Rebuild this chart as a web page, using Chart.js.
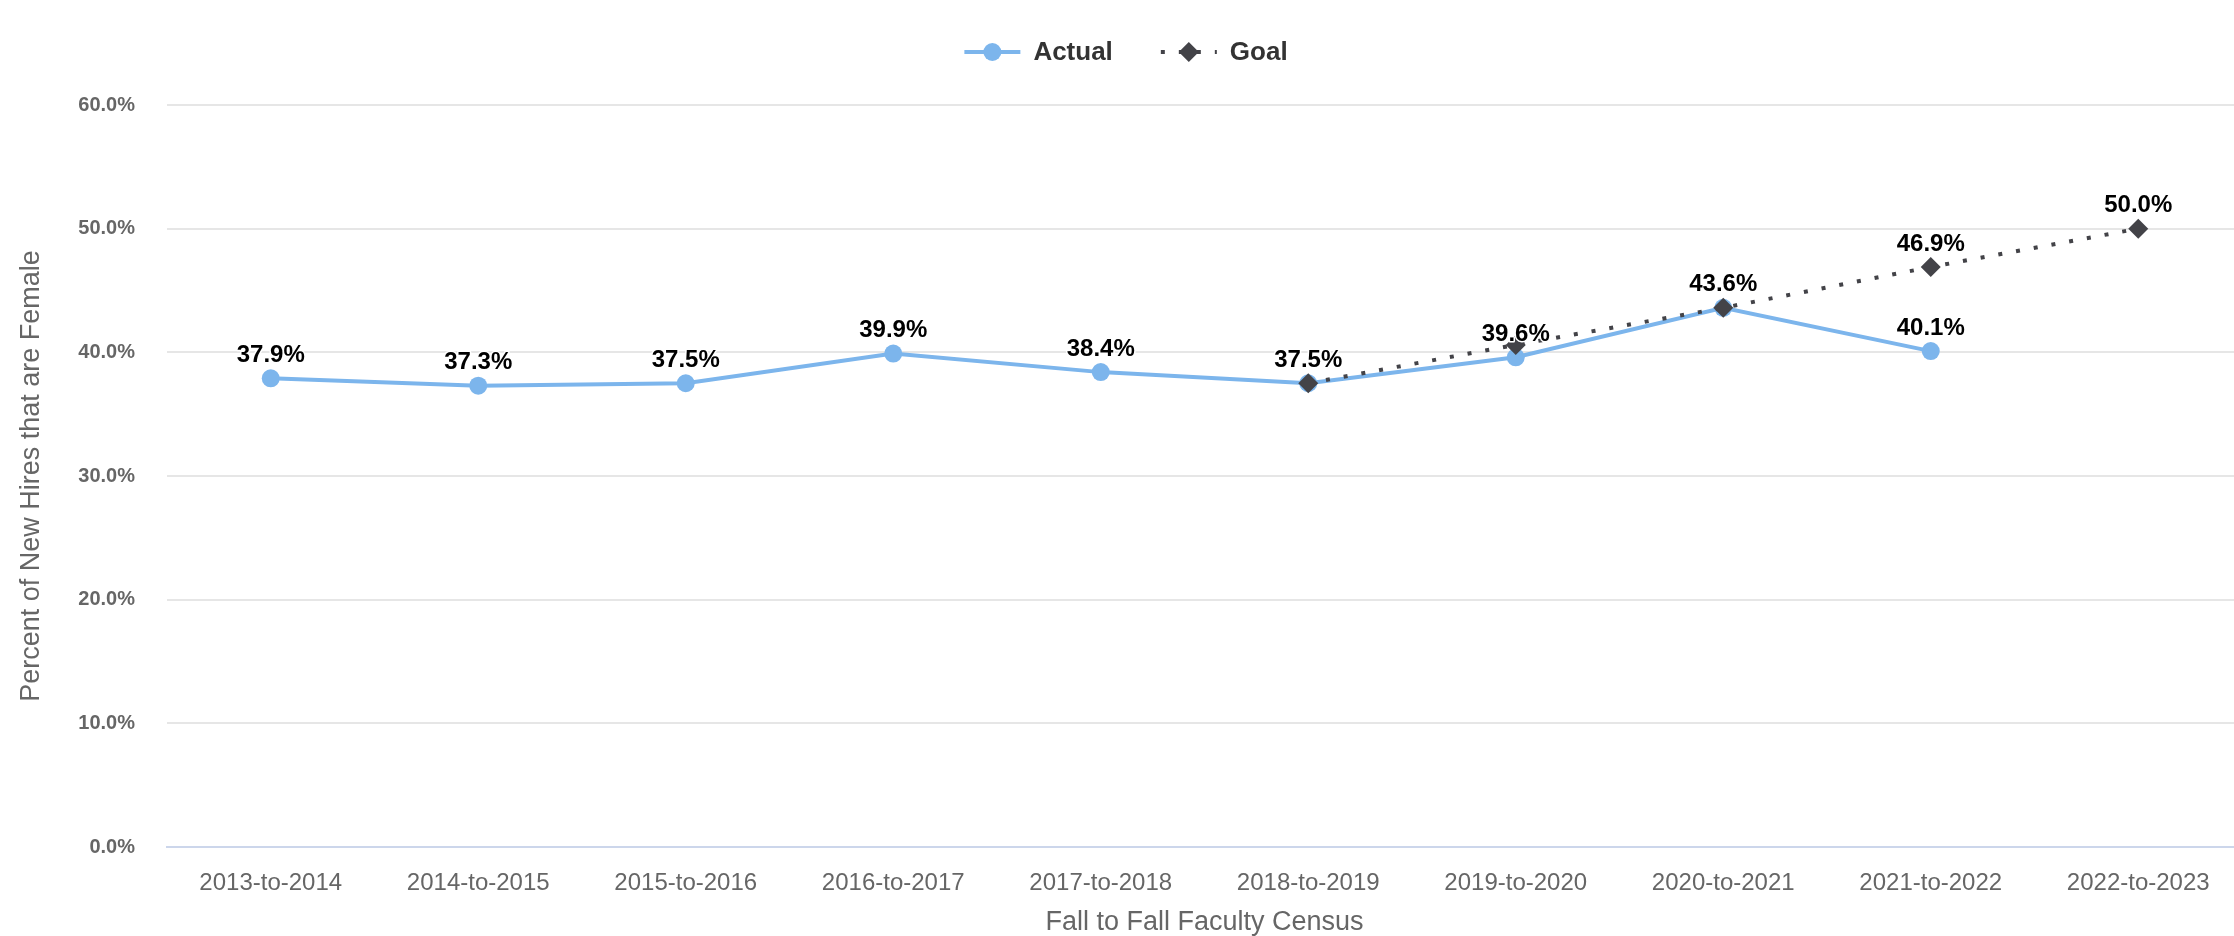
<!DOCTYPE html>
<html>
<head>
<meta charset="utf-8">
<title>Percent of New Hires that are Female</title>
<script src="https://cdn.jsdelivr.net/npm/chart.js@4.4.1/dist/chart.umd.min.js"></script>
<style>
  html, body { margin: 0; padding: 0; background: #ffffff; overflow: hidden; }
  #wrap { position: absolute; left: 0; top: 0; width: 2252px; height: 936px; }
</style>
</head>
<body>
<div id="wrap"><canvas id="chart"></canvas></div>
<script>
// Census periods (fall to fall)
const categories = [
  '2013-to-2014', '2014-to-2015', '2015-to-2016', '2016-to-2017', '2017-to-2018',
  '2018-to-2019', '2019-to-2020', '2020-to-2021', '2021-to-2022', '2022-to-2023'
];
// Share of new hires that are female, in percent
const actualValues = [37.9, 37.3, 37.5, 39.9, 38.4, 37.5, 39.6, 43.6, 40.1, null];
const goalValues   = [null, null, null, null, null, 37.5, 40.6, 43.6, 46.9, 50.0];
// Value axis range and step
const yAxisMin = 0;
const yAxisMax = 60;
const yAxisStep = 10;

const FONT = "'Liberation Sans', Arial, sans-serif";
const fmtPct = v => v.toFixed(1) + '%';

// Value labels above each point, skipping any that would collide with one already placed
const valueLabels = {
  id: 'valueLabels',
  afterDatasetsDraw(chart) {
    const ctx = chart.ctx;
    ctx.save();
    ctx.font = 'bold 24px ' + FONT;
    ctx.textAlign = 'center';
    ctx.textBaseline = 'middle';
    ctx.lineJoin = 'round';
    const placed = [];
    chart.data.datasets.forEach((ds, di) => {
      const meta = chart.getDatasetMeta(di);
      meta.data.forEach((pt, i) => {
        const v = ds.data[i];
        if (v === null || v === undefined) return;
        const text = fmtPct(v);
        const w = ctx.measureText(text).width;
        const cx = pt.x, cy = pt.y - 23;
        const box = { l: cx - w / 2, r: cx + w / 2, t: cy - 12, b: cy + 12 };
        const hit = placed.some(p => box.l < p.r && box.r > p.l && box.t < p.b && box.b > p.t);
        if (hit) return;
        placed.push(box);
        ctx.strokeStyle = '#ffffff';
        ctx.lineWidth = 3;
        ctx.strokeText(text, cx, cy);
        ctx.fillStyle = '#000000';
        ctx.fillText(text, cx, cy);
      });
    });
    ctx.restore();
  }
};

// Legend row centred above the plot: line sample with marker, then the series name
const topLegend = {
  id: 'topLegend',
  afterDraw(chart) {
    const ctx = chart.ctx;
    const items = chart.data.datasets;
    const symW = 56, symPad = 13, itemGap = 48, y = 52;
    ctx.save();
    ctx.font = 'bold 26px ' + FONT;
    const widths = items.map(d => ctx.measureText(d.label).width);
    let total = 0;
    widths.forEach((w, i) => { total += symW + symPad + w + (i < widths.length - 1 ? itemGap : 0); });
    let x = chart.width / 2 - total / 2;
    items.forEach((d, i) => {
      ctx.save();
      ctx.strokeStyle = d.borderColor;
      ctx.lineWidth = d.borderWidth;
      ctx.lineCap = d.borderCapStyle || 'butt';
      ctx.setLineDash(d.borderDash || []);
      ctx.beginPath();
      ctx.moveTo(x, y);
      ctx.lineTo(x + symW, y);
      ctx.stroke();
      ctx.restore();
      ctx.fillStyle = d.pointBackgroundColor;
      ctx.beginPath();
      const cx = x + symW / 2, r = d.pointRadius;
      if (d.pointStyle === 'rectRot') {
        ctx.moveTo(cx, y - r);
        ctx.lineTo(cx + r, y);
        ctx.lineTo(cx, y + r);
        ctx.lineTo(cx - r, y);
      } else {
        ctx.arc(cx, y, r, 0, Math.PI * 2);
      }
      ctx.closePath();
      ctx.fill();
      ctx.fillStyle = '#333333';
      ctx.textAlign = 'left';
      ctx.textBaseline = 'middle';
      ctx.fillText(d.label, x + symW + symPad, y + 1);
      x += symW + symPad + widths[i] + itemGap;
    });
    ctx.restore();
  }
};

new Chart(document.getElementById('chart'), {
  type: 'line',
  data: {
    labels: categories,
    datasets: [
      {
        label: 'Actual',
        data: actualValues,
        order: 1,
        borderColor: '#7cb5ec',
        backgroundColor: '#7cb5ec',
        borderWidth: 4,
        pointStyle: 'circle',
        pointRadius: 9,
        pointBackgroundColor: '#7cb5ec',
        pointBorderWidth: 0,
        fill: false,
        tension: 0
      },
      {
        label: 'Goal',
        data: goalValues,
        order: 0,
        borderColor: '#434348',
        backgroundColor: '#434348',
        borderWidth: 4,
        borderDash: [4, 14],
        borderCapStyle: 'butt',
        pointStyle: 'rectRot',
        pointRadius: 10,
        pointBackgroundColor: '#434348',
        pointBorderWidth: 0,
        fill: false,
        tension: 0
      }
    ]
  },
  options: {
    responsive: true,
    maintainAspectRatio: false,
    animation: false,
    events: [],
    layout: { padding: { top: 105, right: 10, left: 0, bottom: 0 } },
    plugins: {
      legend: { display: false },
      tooltip: { enabled: false },
      title: { display: false }
    },
    scales: {
      x: {
        type: 'category',
        offset: true,
        afterFit(scale) { scale.height = 89; },
        grid: { display: false, drawTicks: false },
        border: { display: true, color: '#ccd6eb', width: 2 },
        ticks: {
          color: '#666666',
          font: { family: FONT, size: 24 },
          padding: 22,
          maxRotation: 0,
          autoSkip: false
        },
        title: {
          display: true,
          text: 'Fall to Fall Faculty Census',
          color: '#666666',
          font: { family: FONT, size: 27, lineHeight: 1 },
          padding: { top: 0, bottom: 0 }
        }
      },
      y: {
        min: yAxisMin,
        max: yAxisMax,
        afterFit(scale) { scale.width = 167; },
        grid: {
          drawTicks: false,
          lineWidth: 2,
          color: c => (c.tick && c.tick.value === 0) ? 'rgba(0,0,0,0)' : '#e6e6e6'
        },
        border: { display: false },
        ticks: {
          stepSize: yAxisStep,
          color: '#666666',
          font: { family: FONT, size: 20, weight: 'bold' },
          padding: 32,
          callback: v => fmtPct(v)
        },
        title: {
          display: true,
          text: 'Percent of New Hires that are Female',
          color: '#666666',
          font: { family: FONT, size: 27 },
          padding: { top: 15, bottom: 0 }
        }
      }
    }
  },
  plugins: [valueLabels, topLegend]
});
</script>
</body>
</html>
